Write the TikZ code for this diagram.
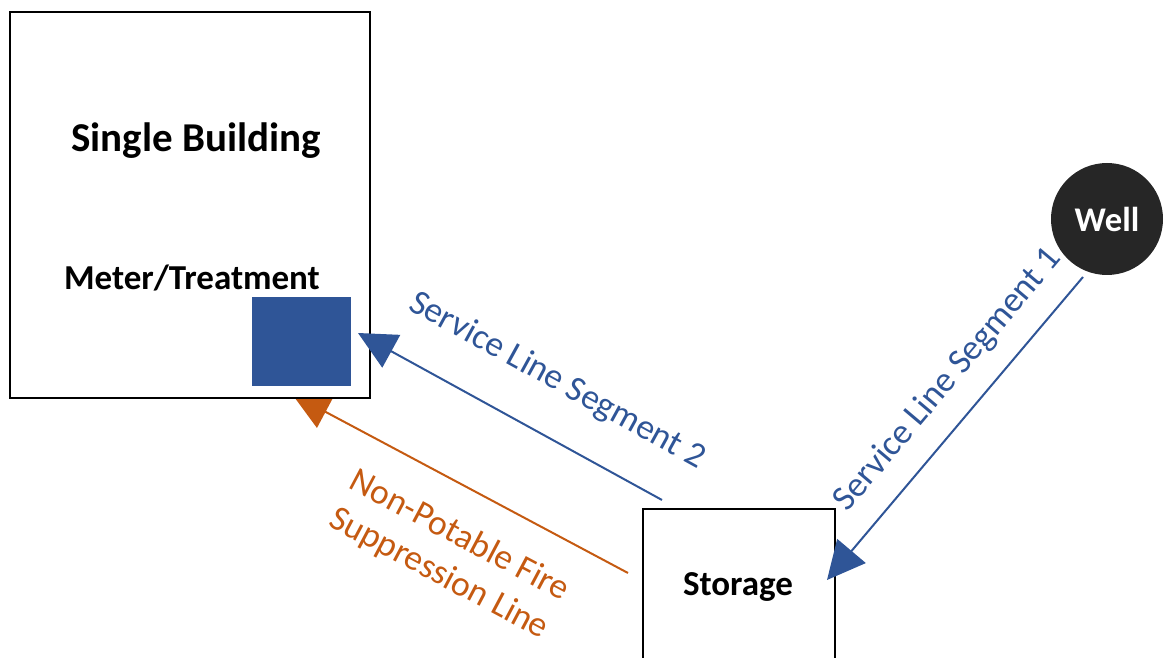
\documentclass[tikz,border=0pt]{standalone}
\usepackage{fontspec}
\setmainfont{Carlito}
\usetikzlibrary{arrows.meta, positioning}
\definecolor{svcblue}{RGB}{47, 85, 151}
\definecolor{fireorange}{RGB}{197, 90, 17}
\definecolor{wellblack}{RGB}{38, 38, 38}
\tikzset{
    plainbox/.style={rectangle, draw=black, line width=1.25pt, fill=white, inner sep=0pt},
    meterbox/.style={rectangle, fill=svcblue, inner sep=0pt, minimum width=49.5pt, minimum height=44.5pt},
    wellnode/.style={circle, fill=wellblack, text=white, minimum size=56pt, inner sep=0pt, font=\fontsize{17.3}{20}\selectfont\bfseries},
    boxtext/.style={anchor=base, font=\fontsize{17.5}{21}\selectfont\bfseries},
    svcline/.style={draw=svcblue, line width=1pt, -{Triangle[length=19pt, width=18.5pt]}},
    fireline/.style={draw=fireorange, line width=1pt, -{Triangle[length=19pt, width=18pt]}},
    svclabel/.style={text=svcblue, inner sep=0pt, font=\fontsize{17.75}{21}\selectfont},
    firelabel/.style={text=fireorange, inner sep=0pt, align=center, font=\fontsize{17.75}{21.5}\selectfont}
}

\begin{document}
\begin{tikzpicture}[x=0.5pt, y=-0.5pt]
    \path[use as bounding box, clip] (0,0) rectangle (1164,658);

    % fire line runs under the building
    \coordinate (fireA) at (628,573);
    \coordinate (fireB) at (292,394);
    \draw[fireline] (fireA) -- (fireB);

    % building with meter
    \node[plainbox, minimum width=180pt, minimum height=193pt] (bldg) at (190,205) {};
    \node[meterbox] (meter) at (301.5,341.5) {};
    \node[boxtext, font=\fontsize{20.5}{24}\selectfont\bfseries] (bldgtxt) at (196,152) {Single Building};
    \node[boxtext] (metertxt) at (192,290) {Meter/Treatment};

    % storage and well
    \node[plainbox, minimum width=96pt, minimum height=95.5pt] (store) at (739,604.5) {};
    \node[boxtext] (storetxt) at (738,595) {Storage};
    \node[wellnode] (well) at (1107,219) {Well};

    % service lines
    \coordinate (seg1A) at (1083,277);
    \coordinate (seg1B) at (827,580);
    \coordinate (seg2A) at (662,500);
    \coordinate (seg2B) at (358,333);
    \draw[svcline] (seg1A) -- (seg1B);
    \draw[svcline] (seg2A) -- (seg2B);

    \node[svclabel, rotate=49.8] (seg1lbl) at (948,380) {Service Line Segment 1};
    \node[svclabel, rotate=-28.8] (seg2lbl) at (557,381) {Service Line Segment 2};
    \node[firelabel, rotate=-28] (firelbl) at (449,555) {Non-Potable Fire\\Suppression Line};
\end{tikzpicture}
\end{document}
